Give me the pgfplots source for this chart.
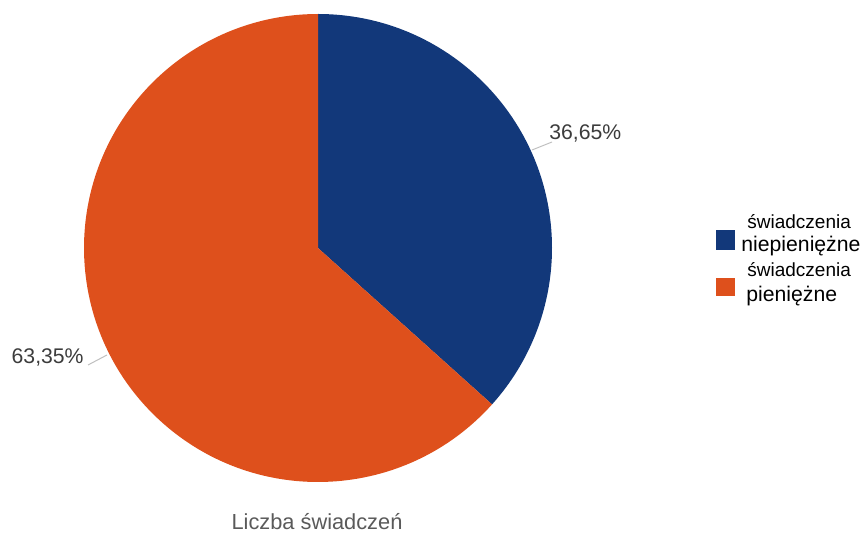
\documentclass[border=0pt]{standalone}
\usepackage{pgfplots}
\pgfplotsset{compat=1.18}
\usepackage{fontspec}
\setmainfont{Liberation Sans}
\definecolor{pieblue}{RGB}{18,56,122}
\definecolor{pieorange}{RGB}{222,80,28}
\definecolor{txt}{RGB}{60,60,60}
\definecolor{ttl}{RGB}{90,90,90}
% shares (%) of the two categories
\def\shareA{36.65}% świadczenia niepieniężne
\def\shareB{63.35}% świadczenia pieniężne
\begin{document}
\begin{tikzpicture}
\begin{axis}[
  x=0.5pt, y=0.5pt,
  xmin=0, xmax=864, ymin=0, ymax=536,
  hide axis, clip=false,
]
\path (axis cs:0,0) rectangle (axis cs:864,536);
\pgfmathsetmacro{\endA}{90-3.6*\shareA}
\pgfmathsetmacro{\endB}{\endA-3.6*\shareB}
% slices
\fill[pieblue] (axis cs:318,288) -- ++(90:117pt) arc[start angle=90, end angle=\endA, radius=117pt] -- cycle;
\fill[pieorange] (axis cs:318,288) -- ++(\endA:117pt) arc[start angle=\endA, end angle=\endB, radius=117pt] -- cycle;
% leader lines
\draw[gray!50, line width=0.5pt] (axis cs:532,386) -- (axis cs:552,394);
\draw[gray!50, line width=0.5pt] (axis cs:88,171) -- (axis cs:107,181);
% labels
\node[anchor=west, text=txt, font=\fontsize{10.6}{12}\selectfont, inner sep=0pt] at (axis cs:549,403) {36,65\%};
\node[anchor=east, text=txt, font=\fontsize{10.6}{12}\selectfont, inner sep=0pt] at (axis cs:84,179) {63,35\%};
% legend
\fill[pieblue] (axis cs:716,286) rectangle (axis cs:735,306);
\fill[pieorange] (axis cs:716,240) rectangle (axis cs:735,258);
\node[anchor=west, text=black, font=\fontsize{9.5}{11}\selectfont, inner sep=0pt] at (axis cs:747,314) {świadczenia};
\node[anchor=west, text=black, font=\fontsize{10.6}{12}\selectfont, inner sep=0pt] at (axis cs:741,290) {niepieniężne};
\node[anchor=west, text=black, font=\fontsize{9.5}{11}\selectfont, inner sep=0pt] at (axis cs:747,266) {świadczenia};
\node[anchor=west, text=black, font=\fontsize{10.6}{12}\selectfont, inner sep=0pt] at (axis cs:746,240) {pieniężne};
% title
\node[text=ttl, font=\fontsize{10.9}{13}\selectfont, inner sep=0pt] at (axis cs:317,14) {Liczba świadczeń};
\end{axis}
\end{tikzpicture}
\end{document}
